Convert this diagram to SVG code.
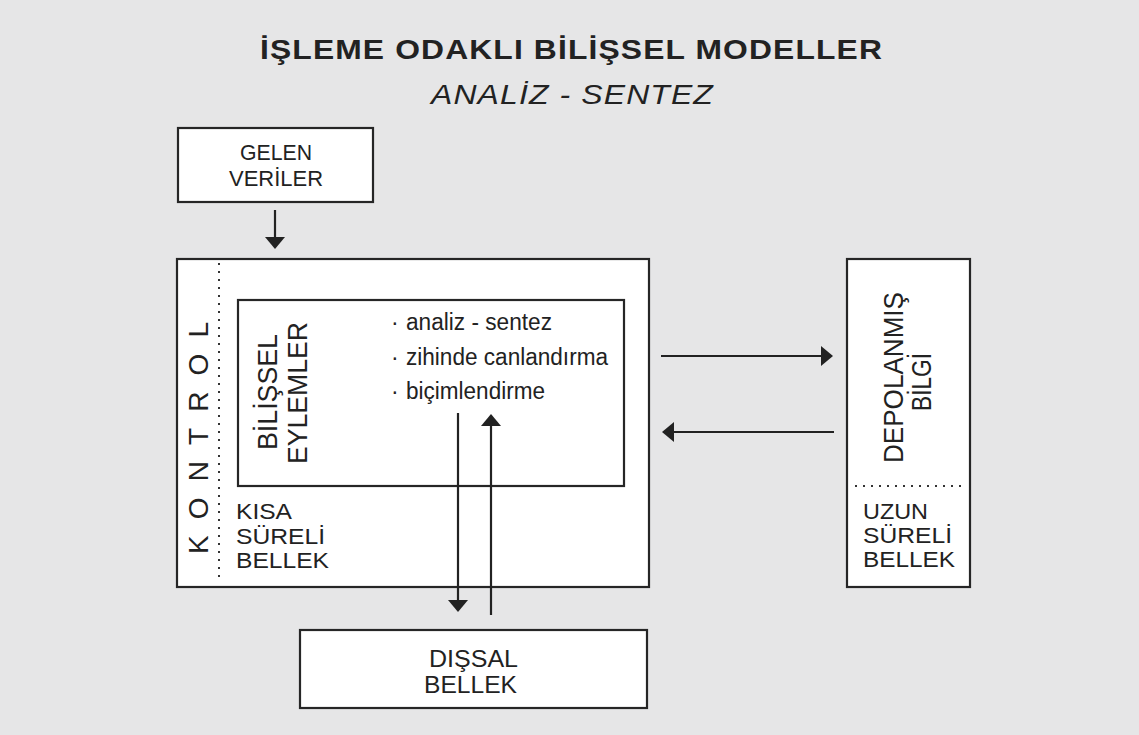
<svg xmlns="http://www.w3.org/2000/svg" width="1139" height="735" viewBox="0 0 1139 735">
<style>
.bg{fill:#e6e6e7}
.box{fill:#ffffff;stroke:#262626;stroke-width:2.2}
.dot{stroke:#333;stroke-width:2;stroke-dasharray:2 6;fill:none}
.t{font-family:"Liberation Sans",Arial,sans-serif;fill:#222}
.lbl{font-size:23px}
.stk{font-size:22px}
.big{font-size:27px}
.con{stroke:#222;stroke-width:2.2;fill:none;marker-end:url(#ah)}
</style>
<defs>
<marker id="ah" markerUnits="userSpaceOnUse" markerWidth="13" markerHeight="20" refX="1" refY="10" orient="auto">
<path d="M0,0 L12,10 L0,20 z" fill="#222"/>
</marker>
</defs>
<rect class="bg" x="0" y="0" width="1139" height="735"/>

<g id="title">
<text class="t" x="260" y="59" font-size="28" font-weight="bold" textLength="623" lengthAdjust="spacingAndGlyphs" letter-spacing="1">İŞLEME ODAKLI BİLİŞSEL MODELLER</text>
<text class="t" x="431" y="104" font-size="28" font-style="italic" textLength="283" lengthAdjust="spacingAndGlyphs" letter-spacing="1">ANALİZ - SENTEZ</text>
</g>

<g id="gelen-veriler">
<rect class="box" x="178" y="128" width="195" height="74"/>
<text class="t" x="240" y="160" font-size="22" textLength="72" lengthAdjust="spacingAndGlyphs">GELEN</text>
<text class="t" x="229" y="186" font-size="22" textLength="94" lengthAdjust="spacingAndGlyphs">VERİLER</text>
</g>

<g id="kisa-sureli-bellek">
<rect class="box" x="177" y="259" width="472" height="328"/>
<line class="dot" x1="219" y1="263" x2="219" y2="583"/>
<text class="t" transform="translate(208,554) rotate(-90)" x="0" y="0" font-size="28" textLength="232" lengthAdjust="spacing">KONTROL</text>
<text class="t stk" x="236" y="519" textLength="56" lengthAdjust="spacingAndGlyphs">KISA</text>
<text class="t stk" x="236" y="544" textLength="89" lengthAdjust="spacingAndGlyphs">SÜRELİ</text>
<text class="t stk" x="236" y="568" textLength="93" lengthAdjust="spacingAndGlyphs">BELLEK</text>
</g>

<g id="bilissel-eylemler">
<rect class="box" x="238" y="300" width="386" height="186"/>
<text class="t big" transform="translate(277,450) rotate(-90)" x="0" y="0" textLength="116" lengthAdjust="spacingAndGlyphs">BİLİŞSEL</text>
<text class="t big" transform="translate(307,464) rotate(-90)" x="0" y="0" textLength="142" lengthAdjust="spacingAndGlyphs">EYLEMLER</text>
<text class="t lbl" x="391" y="330">·</text>
<text class="t lbl" x="406" y="330" textLength="146" lengthAdjust="spacingAndGlyphs">analiz - sentez</text>
<text class="t lbl" x="391" y="365">·</text>
<text class="t lbl" x="406" y="365" textLength="202" lengthAdjust="spacingAndGlyphs">zihinde canlandırma</text>
<text class="t lbl" x="391" y="399">·</text>
<text class="t lbl" x="406" y="399" textLength="139" lengthAdjust="spacingAndGlyphs">biçimlendirme</text>
</g>

<g id="uzun-sureli-bellek">
<rect class="box" x="847" y="259" width="123" height="328"/>
<line class="dot" x1="855" y1="486" x2="965" y2="486"/>
<text class="t big" transform="translate(903,463) rotate(-90)" x="0" y="0" textLength="171" lengthAdjust="spacingAndGlyphs">DEPOLANMIŞ</text>
<text class="t big" transform="translate(931,411) rotate(-90)" x="0" y="0" textLength="58" lengthAdjust="spacingAndGlyphs">BİLGİ</text>
<text class="t stk" x="863" y="519" textLength="65" lengthAdjust="spacingAndGlyphs">UZUN</text>
<text class="t stk" x="863" y="543" textLength="89" lengthAdjust="spacingAndGlyphs">SÜRELİ</text>
<text class="t stk" x="863" y="567" textLength="92" lengthAdjust="spacingAndGlyphs">BELLEK</text>
</g>

<g id="dissal-bellek">
<rect class="box" x="300" y="630" width="347" height="78"/>
<text class="t lbl" x="429" y="667" textLength="89" lengthAdjust="spacingAndGlyphs">DIŞSAL</text>
<text class="t lbl" x="424" y="693" textLength="93" lengthAdjust="spacingAndGlyphs">BELLEK</text>
</g>

<g id="connectors">
<line class="con" x1="275" y1="210" x2="275" y2="238"/>
<line class="con" x1="661" y1="356" x2="822" y2="356"/>
<line class="con" x1="834" y1="432" x2="673" y2="432"/>
<line class="con" x1="458" y1="413" x2="458" y2="601"/>
<line class="con" x1="491" y1="615" x2="491" y2="425"/>
</g>
</svg>
